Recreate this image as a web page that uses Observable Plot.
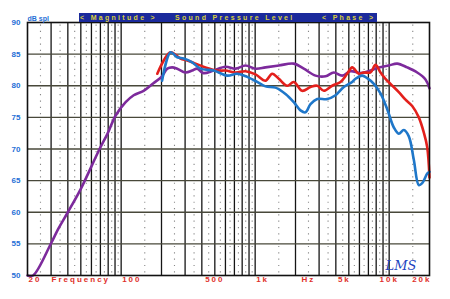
<!DOCTYPE html>
<html><head><meta charset="utf-8">
<script src="https://cdn.jsdelivr.net/npm/d3@7"></script>
<script src="https://cdn.jsdelivr.net/npm/@observablehq/plot@0.6"></script>
<style>
body{margin:0;background:#fff;}
#wrap{position:relative;width:450px;height:299px;}
#hdr{position:absolute;left:79px;top:13px;width:298px;height:9px;background:#1b2a9c;font:bold 7px "Liberation Sans",Arial,sans-serif;color:#d8cf3c;letter-spacing:2.3px;line-height:9px;white-space:pre;}
#hdr span{position:absolute;top:0}
</style></head>
<body>
<div id="wrap">
<div id="chart"></div>
<div id="hdr"><span style="left:1px">&lt; Magnitude &gt;</span><span style="left:96px">Sound Pressure Level</span><span style="left:243px">&lt; Phase &gt;</span></div>
</div>
<script>
// ---- data ----
const purpleFreq = [20,22,30,34,40,50,69,79,91,108,124,147,174,200,221,240,262,302,339,369,411,488,601,713,847,1006,1194,1501,1942,2306,2822,3350,3862,4463,5146,6111,7258,8368,9940,11482,13636,16192,18670,20000];
const purpleDb   = [50,50,55.1,57.4,60.0,63.7,70.0,72.4,75.3,77.4,78.5,79.2,80.4,81.4,82.7,82.9,82.7,82.1,82.4,82.7,82.0,82.4,83.0,82.7,83.2,82.7,82.9,83.2,83.5,82.7,81.6,81.5,82.1,81.6,82.3,82.0,82.4,82.9,83.2,83.5,82.9,82.1,81.0,79.6];

const redFreq = [186,234,277,311,359,426,521,601,713,847,1006,1194,1340,1501,1734,1942,2244,2588,2904,3253,3758,4335,4862,5298,5936,6467,7258,7909,8617,9391,10234,11802,13244,14860,16642,18138,19222,20000];
const redDb   = [81.9,85.3,84.3,84.0,83.5,82.9,82.4,82.4,82.1,82.3,81.8,80.8,81.9,81.1,80.0,80.6,79.2,79.8,80.0,79.2,80.0,80.6,81.9,82.9,81.9,82.1,82.1,83.3,82.1,81.1,80.3,79.0,77.8,76.8,75.0,72.6,70.3,65.5];

const blueFreq = [202,234,262,293,339,391,491,619,735,872,1035,1194,1418,1684,1942,2179,2374,2588,2904,3450,3977,4586,5298,5607,6292,6858,7682,8617,9670,10832,11802,12862,14016,15272,16642,17644,19222,20000];
const blueDb   = [80.8,85.3,84.5,84.3,83.7,82.7,82.4,81.6,81.9,81.4,80.6,79.9,79.7,78.7,77.4,76.1,75.8,77.1,77.9,77.9,78.5,79.8,80.6,81.1,81.6,81.2,80.3,78.8,76.3,73.4,72.4,73.0,72.0,68.3,64.3,64.6,66.1,66.4];

const yTicks = [50,55,60,65,70,75,80,85,90];
const yGrid = [55,60,65,70,75,80,85];
const majorGrid = [30,40,50,60,70,80,90,100,200,300,400,500,600,700,800,900,1000,2000,3000,4000,5000,6000,7000,8000,9000,10000];
const minorGrid = [25,35,45,55,65,75,85,95,150,250,350,450,550,650,750,850,950,1500,2500,3500,4500,5500,6500,7500,8500,9500,15000];

const xLabelsStart = ["20","100","1k"];
const xLabelsStartAt = [20,100,1000];
const xLabelsMid = ["Frequency","500","Hz","10k"];
const xLabelsMidAt = [50,500,2500,10000];
const xLabelsEnd = ["5k","20k"];
const xLabelsEndAt = [5000,20000];

const note = {f: 9400, db: 51.6, t: "LMS"};

// ---- build ----
const mk = (F, D) => F.map((f, i) => ({f, db: D[i]}));
const purple = mk(purpleFreq, purpleDb);
const red = mk(redFreq, redDb);
const blue = mk(blueFreq, blueDb);
const lab = (L, A) => L.map((t, i) => ({t, f: A[i]}));

const red_c = "#e3201c", blue_c = "#1f77c9", purple_c = "#7d2a9c";
const axisBlue = "#1f6fd6", axisRed = "#e0302a";
const font = "Liberation Sans, Arial, sans-serif";

const chart = Plot.plot({
  width: 450, height: 299,
  marginLeft: 27, marginRight: 21, marginTop: 22, marginBottom: 24,
  x: {type: "log", domain: [20, 20000], axis: null},
  y: {domain: [50, 90], axis: null},
  style: {fontFamily: font, background: "transparent", fontWeight: "bold"},
  marks: [
    Plot.ruleX(minorGrid, {stroke: "#888", strokeWidth: 1.1, strokeDasharray: "1.2,5.125", strokeDashoffset: 3.8}),
    Plot.ruleX(majorGrid, {stroke: "#151515", strokeWidth: 1.3}),
    Plot.ruleY(yGrid, {stroke: "#48483a", strokeWidth: 1.3}),
    Plot.line(purple, {x: "f", y: "db", stroke: purple_c, strokeWidth: 2.6, curve: "catmull-rom"}),
    Plot.line(red, {x: "f", y: "db", stroke: red_c, strokeWidth: 2.6, curve: "catmull-rom"}),
    Plot.line(blue, {x: "f", y: "db", stroke: blue_c, strokeWidth: 2.6, curve: "catmull-rom"}),
    Plot.frame({stroke: "#111", strokeWidth: 1.6}),
    Plot.axisY(yTicks, {tickSize: 0, tickPadding: 7, fill: axisBlue, fontWeight: "bold", fontSize: 8, label: null}),
    Plot.text(["dB spl"], {frameAnchor: "top-left", dy: -6, textAnchor: "start", fill: axisBlue, fontSize: 7, fontWeight: "bold"}),
    Plot.text(lab(xLabelsStart, xLabelsStartAt), {x: "f", text: "t", frameAnchor: "bottom", dy: 6, dx: 1, textAnchor: "start", fill: axisRed, fontSize: 8, fontWeight: "bold"}),
    Plot.text(lab(xLabelsMid, xLabelsMidAt), {x: "f", text: "t", frameAnchor: "bottom", dy: 6, textAnchor: "middle", fill: axisRed, fontSize: 8, fontWeight: "bold"}),
    Plot.text(lab(xLabelsEnd, xLabelsEndAt), {x: "f", text: "t", frameAnchor: "bottom", dy: 6, dx: 2, textAnchor: "end", fill: axisRed, fontSize: 8, fontWeight: "bold"}),
    Plot.text([note], {x: "f", y: "db", text: "t", textAnchor: "start", fontStyle: "italic", fontSize: 13, fill: "#2244c0", fontFamily: "DejaVu Serif", fontWeight: "normal"})
  ]
});
chart.querySelectorAll('g[fill="#e0302a"] text').forEach(t => t.style.letterSpacing = "2px");
chart.querySelectorAll('g[fill="#1f6fd6"] text').forEach(t => t.style.fontWeight = "bold");
document.getElementById("chart").appendChild(chart);
</script>
</body></html>
